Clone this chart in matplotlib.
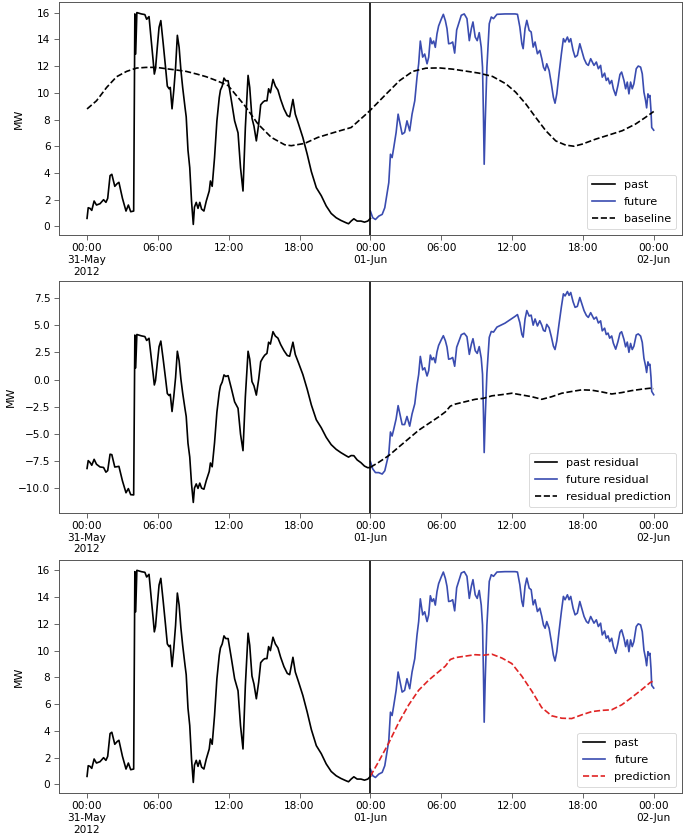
import numpy as np
import pandas as pd
import matplotlib
matplotlib.use("Agg")
import matplotlib.pyplot as plt
import matplotlib.dates as mdates

# ---------------- data (hours since 2012-05-31 00:00) ----------------
past_hours = [0.0, 0.1, 0.25, 0.4, 0.6, 0.8, 1.1, 1.4, 1.6, 1.75, 1.95, 2.1, 2.35, 2.55, 2.7,
              3.0, 3.3, 3.5, 3.7, 3.95, 4.05, 4.12, 4.22, 4.6, 4.9, 5.05, 5.25, 5.45, 5.6, 5.7,
              5.8, 5.95, 6.1, 6.25, 6.45, 6.65, 6.8, 6.95, 7.05, 7.2, 7.35, 7.5, 7.65, 7.8, 7.95,
              8.1, 8.3, 8.4, 8.55, 8.7, 8.85, 9.0, 9.1, 9.25, 9.4, 9.55, 9.7, 9.9, 10.1, 10.35,
              10.45, 10.6, 10.8, 11.0, 11.2, 11.3, 11.45, 11.6, 11.75, 11.95, 12.23, 12.5, 12.79,
              13.0, 13.21, 13.41, 13.64, 13.78, 13.97, 14.14, 14.34, 14.54, 14.71, 14.9, 15.05,
              15.24, 15.38, 15.53, 15.75, 15.95, 16.17, 16.4, 16.68, 16.96, 17.16, 17.44, 17.64,
              17.92, 18.28, 18.65, 19.0, 19.42, 19.84, 20.26, 20.68, 21.1, 21.5, 21.95, 22.15,
              22.37, 22.6, 22.88, 23.2, 23.5, 23.78, 24.0]
past_mw = [0.6, 1.4, 1.35, 1.2, 1.9, 1.6, 1.7, 2.0, 1.8, 2.1, 3.8, 3.9, 3.0, 3.2, 3.3,
           2.1, 1.15, 1.6, 1.1, 1.15, 15.9, 12.9, 16.0, 15.9, 15.85, 15.5, 15.7, 13.8, 12.4, 11.4,
           11.8, 13.4, 14.9, 15.4, 13.7, 11.9, 10.5, 10.3, 10.4, 8.8, 10.2, 11.9, 14.3, 13.4, 11.7,
           10.4, 8.9, 8.2, 5.7, 4.4, 1.9, 0.15, 1.45, 1.8, 1.35, 1.8, 1.3, 1.15, 1.9, 2.65,
           3.4, 3.0, 5.15, 7.9, 9.65, 10.2, 10.5, 11.1, 10.9, 10.9, 9.4, 7.9, 7.0,
           4.4, 2.65, 7.4, 11.3, 10.4, 8.1, 7.5, 6.4, 7.65, 9.1, 9.3, 9.4,
           9.4, 10.3, 10.0, 11.0, 10.5, 10.2, 9.5, 8.8, 8.3, 8.2, 9.5, 8.4,
           7.65, 6.65, 5.4, 4.1, 2.9, 2.3, 1.53, 0.97, 0.65, 0.45, 0.27, 0.2,
           0.4, 0.57, 0.4, 0.4, 0.32, 0.4, 0.6]

future_hours = [24.0, 24.2, 24.43, 24.71, 25.0, 25.22, 25.42, 25.56, 25.7, 25.84, 25.98, 26.18,
                26.35, 26.52, 26.69, 26.9, 27.1, 27.33, 27.53, 27.76, 27.95, 28.09, 28.23, 28.43,
                28.6, 28.8, 28.94, 29.08, 29.22, 29.36, 29.5, 29.64, 29.78, 30.0, 30.18, 30.35,
                30.49, 30.63, 30.8, 30.97, 31.14, 31.31, 31.48, 31.7, 31.95, 32.18, 32.38, 32.55,
                32.69, 32.88, 33.05, 33.22, 33.39, 33.5, 33.58, 33.64, 33.73, 33.87, 34.07, 34.24,
                34.43, 34.72, 35.4, 36.26, 36.46, 36.66, 36.83, 36.94, 37.1, 37.25, 37.45, 37.62,
                37.79, 37.95, 38.15, 38.35, 38.52, 38.66, 38.8, 38.94, 39.14, 39.33, 39.5, 39.64,
                39.79, 39.98, 40.18, 40.35, 40.49, 40.69, 40.83, 40.97, 41.17, 41.34, 41.53, 41.74,
                41.9, 42.1, 42.3, 42.46, 42.66, 42.8, 42.94, 43.14, 43.31, 43.5, 43.64, 43.84,
                43.98, 44.13, 44.27, 44.44, 44.58, 44.78, 44.97, 45.14, 45.28, 45.48, 45.62, 45.76,
                45.9, 46.04, 46.18, 46.32, 46.52, 46.69, 46.89, 47.03, 47.17, 47.31, 47.4, 47.51,
                47.6, 47.68, 47.77, 47.83, 47.94, 48.0]
future_mw = [1.15, 0.65, 0.52, 0.77, 0.9, 1.4, 2.53, 3.28, 5.4, 5.15, 5.9, 7.03,
             8.4, 7.65, 6.9, 7.03, 7.9, 7.15, 8.4, 9.4, 11.17, 12.17, 13.87, 12.67,
             12.9, 12.17, 12.67, 14.1, 13.67, 13.87, 13.4, 14.4, 15.0, 15.5, 15.87, 15.4,
             14.8, 13.67, 13.7, 13.8, 12.97, 14.7, 15.17, 15.8, 15.9, 15.55, 13.9, 14.8,
             15.3, 14.17, 13.9, 14.5, 13.4, 11.9, 8.15, 4.65, 7.9, 11.9, 15.17, 15.67,
             15.55, 15.87, 15.9, 15.9, 15.87, 14.92, 13.67, 13.3, 14.8, 15.42, 14.67, 14.55,
             13.42, 13.8, 12.92, 13.17, 12.55, 11.92, 11.67, 12.17, 11.67, 10.67, 9.67, 9.22,
             9.92, 11.42, 12.92, 14.05, 13.8, 14.17, 13.8, 14.05, 13.17, 12.67, 12.8, 13.67,
             13.17, 12.55, 12.17, 12.05, 12.55, 12.3, 12.05, 12.3, 11.8, 12.05, 11.17, 11.47,
             10.92, 11.1, 10.67, 10.92, 10.3, 9.8, 10.55, 11.37, 11.55, 10.92, 10.3, 10.8,
             9.92, 10.8, 10.3, 10.67, 11.8, 12.0, 11.92, 11.42, 10.05, 9.42, 8.87, 9.92,
             9.67, 9.8, 8.65, 7.4, 7.27, 7.2]

baseline_hours = [0.0, 0.8, 1.66, 2.5, 3.35, 4.2, 5.0, 5.9, 6.7, 7.6, 8.4, 9.3, 10.1, 11.0,
                  11.95, 13.36, 14.48, 15.61, 16.74, 17.3, 18.43, 19.55, 20.96, 22.37, 23.5,
                  24.0, 25.33, 26.46, 27.58, 28.7, 29.84, 30.96, 32.1, 33.2, 34.35, 35.48,
                  36.3, 37.17, 38.0, 38.86, 39.7, 40.55, 41.25, 41.95, 43.08, 44.2, 45.33,
                  46.46, 47.3, 48.0]
baseline_mw = [8.79, 9.4, 10.4, 11.2, 11.6, 11.85, 11.9, 11.9, 11.8, 11.7, 11.6, 11.4, 11.2, 10.9,
               10.54, 9.04, 7.66, 6.66, 6.11, 6.04, 6.21, 6.66, 7.04, 7.4, 8.29,
               8.7, 9.9, 10.9, 11.6, 11.84, 11.86, 11.77, 11.62, 11.47, 11.22, 10.67,
               10.05, 9.16, 8.16, 7.16, 6.4, 6.08, 6.0, 6.16, 6.53, 6.84, 7.16,
               7.66, 8.16, 8.6]

resid_pred_hours = [24.0, 24.71, 25.56, 26.4, 27.24, 28.09, 28.94, 29.78, 30.35, 30.77, 31.2,
                    32.04, 32.88, 33.58, 34.29, 35.14, 35.98, 36.83, 37.67, 38.52, 39.36, 40.21,
                    41.05, 41.9, 42.75, 43.6, 44.44, 45.29, 46.13, 46.97, 47.68, 48.0]
resid_pred_mw = [-8.08, -7.62, -7.0, -6.22, -5.45, -4.67, -4.05, -3.44, -2.98, -2.45, -2.26,
                 -2.04, -1.82, -1.73, -1.5, -1.39, -1.26, -1.42, -1.58, -1.82, -1.58, -1.26,
                 -1.1, -0.95, -0.98, -1.14, -1.33, -1.2, -1.02, -0.89, -0.8, -0.85]

tick_hours = [0, 6, 12, 18, 24, 30, 36, 42, 48]
tick_labels = ["00:00\n31-May\n2012", "06:00", "12:00", "18:00", "00:00\n01-Jun",
               "06:00", "12:00", "18:00", "00:00\n02-Jun"]

# ---------------- derived series ----------------
start = pd.Timestamp("2012-05-31 00:00")


def to_time(h):
    return (start + pd.to_timedelta(np.asarray(h, dtype=float), unit="h")).to_numpy()


bh = np.asarray(baseline_hours)
bv = np.asarray(baseline_mw)
past_resid = np.asarray(past_mw) - np.interp(past_hours, bh, bv)
future_resid = np.asarray(future_mw) - np.interp(future_hours, bh, bv)
prediction = np.interp(resid_pred_hours, bh, bv) + np.asarray(resid_pred_mw)

t_past = to_time(past_hours)
t_future = to_time(future_hours)
t_base = to_time(baseline_hours)
t_rp = to_time(resid_pred_hours)
t_split = to_time([24.0])[0]
t_ticks = mdates.date2num(to_time(tick_hours))

BLUE = "#3a4cb0"
RED = "#e02424"
LW = 1.9

DPI = 63
fig = plt.figure(figsize=(685 / DPI, 836 / DPI), dpi=DPI)
left, width = 0.0857, 0.910
positions = [0.7189, 0.3864, 0.0514]
heights = [0.2787, 0.2775, 0.2791]
axes = [fig.add_axes([left, b, width, h]) for b, h in zip(positions, heights)]

# panel 1
ax = axes[0]
ax.plot(t_past, past_mw, color="black", lw=LW, label="past")
ax.plot(t_future, future_mw, color=BLUE, lw=LW, label="future")
ax.plot(t_base, baseline_mw, color="black", lw=LW, ls="--", label="baseline")

# panel 2
ax = axes[1]
ax.plot(t_past, past_resid, color="black", lw=LW, label="past residual")
ax.plot(t_future, future_resid, color=BLUE, lw=LW, label="future residual")
ax.plot(t_rp, resid_pred_mw, color="black", lw=LW, ls="--", label="residual prediction")

# panel 3
ax = axes[2]
ax.plot(t_past, past_mw, color="black", lw=LW, label="past")
ax.plot(t_future, future_mw, color=BLUE, lw=LW, label="future")
ax.plot(t_rp, prediction, color=RED, lw=LW, ls="--", label="prediction")

labelpads = [15, 3, 15]
for ax, lp in zip(axes, labelpads):
    ax.axvline(t_split, color="black", lw=LW)
    ax.set_ylabel("MW", fontsize=12.5, labelpad=lp)
    ax.set_xticks(t_ticks)
    ax.set_xticklabels(tick_labels)
    ax.tick_params(labelsize=12, length=6, width=1.0, color="#555555")
    ax.legend(loc="lower right", fontsize=12.8, labelspacing=0.6, borderpad=0.5)
    for s in ax.spines.values():
        s.set_color("#555555")
        s.set_linewidth(1.1)

fig.savefig("out.png", dpi=DPI)
